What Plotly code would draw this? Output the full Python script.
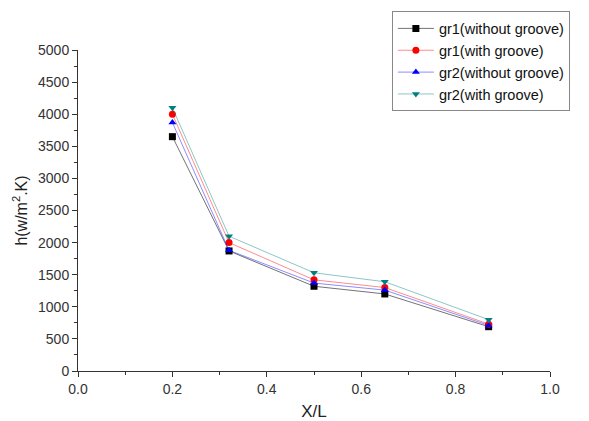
import plotly.graph_objects as go

# Position along the plate (X/L)
x_over_l = [0.2, 0.32, 0.5, 0.65, 0.87]

# Heat transfer coefficient h (W/m^2.K)
gr1_without = [3650, 1870, 1320, 1200, 690]
gr1_with = [4000, 2000, 1420, 1300, 730]
gr2_without = [3870, 1880, 1370, 1260, 710]
gr2_with = [4100, 2100, 1530, 1390, 800]

series = [
    ("gr1(without groove)", gr1_without, "#000000", "rgba(0,0,0,0.55)", "square"),
    ("gr1(with groove)", gr1_with, "#ff0000", "rgba(255,0,0,0.45)", "circle"),
    ("gr2(without groove)", gr2_without, "#0000ff", "rgba(0,0,255,0.45)", "triangle-up"),
    ("gr2(with groove)", gr2_with, "#008080", "rgba(0,128,128,0.45)", "triangle-down"),
]

FONT = "Liberation Sans, Arial, sans-serif"

fig = go.Figure()
for name, vals, mcol, lcol, sym in series:
    fig.add_trace(go.Scatter(
        x=x_over_l, y=vals, name=name, mode="lines+markers",
        line=dict(color=lcol, width=1),
        marker=dict(symbol=sym, size=7, color=mcol),
    ))

axis_common = dict(
    showline=True, linecolor="#333333", linewidth=1,
    ticks="outside", ticklen=5, tickcolor="#333333",
    showgrid=False, zeroline=False, automargin=False,
    tickfont=dict(family=FONT, size=14, color="#333333"),
    mirror=False,
)

fig.update_xaxes(
    range=[0, 1], dtick=0.2, tickformat=".1f",
    minor=dict(ticks="outside", ticklen=3, dtick=0.1, tickcolor="#333333"),
    title=dict(text="X/L", font=dict(family=FONT, size=17, color="#222222"), standoff=10),
    **axis_common,
)
fig.update_yaxes(
    range=[0, 5000], dtick=500,
    minor=dict(ticks="outside", ticklen=3, dtick=250, tickcolor="#333333"),
    title=dict(text="h(w/m<sup>2</sup>.K)", font=dict(family=FONT, size=16, color="#222222"), standoff=6),
    **axis_common,
)

fig.update_layout(
    width=589, height=421,
    margin=dict(l=78, r=39, t=48, b=50),
    plot_bgcolor="white", paper_bgcolor="white",
    legend=dict(
        x=0.665, y=1.12, xanchor="left", yanchor="top",
        bordercolor="#888888", borderwidth=1, bgcolor="white",
        font=dict(family=FONT, size=14.5, color="#111111"),
        tracegroupgap=0, itemsizing="trace", itemwidth=36,
    ),
    showlegend=True,
)

fig.write_html("out.html")
